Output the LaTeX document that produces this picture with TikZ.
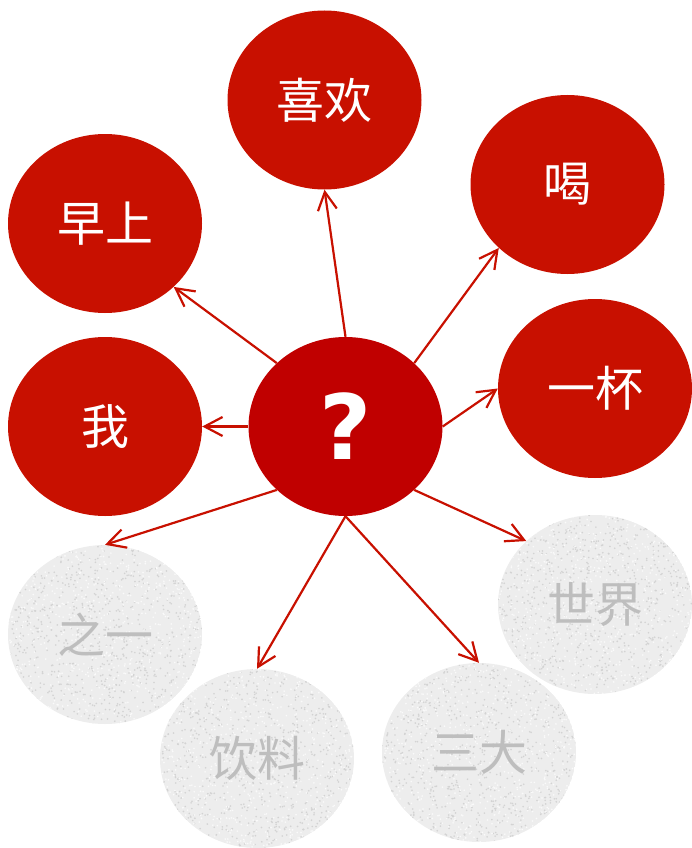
\documentclass[tikz,border=0pt]{standalone}
\usepackage{fontspec}
\newfontfamily\cjk{Noto Sans CJK SC}
\newfontfamily\qfont{DejaVu Sans Bold}
\usetikzlibrary{shapes.geometric,arrows.meta}
\definecolor{ballred}{HTML}{C81000}
\definecolor{centerred}{HTML}{C00000}
\definecolor{arrowred}{HTML}{C81000}
\definecolor{ballgray}{HTML}{EDEDED}
\definecolor{dotdark}{HTML}{D3D3D3}
\definecolor{dotlight}{HTML}{FAFAFA}
\definecolor{graytext}{HTML}{BEBEBE}
\tikzset{
  ballshape/.style={ellipse, minimum width=194pt, minimum height=179pt, inner sep=0pt, draw=none},
  redball/.style={ballshape, fill=ballred, text=white, font=\cjk\fontsize{48}{48}\selectfont},
  centerball/.style={ballshape, fill=centerred, text=white, font=\qfont\fontsize{90}{90}\selectfont},
  grayball/.style={ballshape, text=graytext, font=\cjk\fontsize{48}{48}\selectfont},
  link/.style={draw=arrowred, line width=2.2pt, -{Straight Barb[length=18pt,width=19pt,line width=2.2pt]}}
}
\newcommand{\texturedball}[1]{%
  \begin{scope}
    \clip #1 ellipse [x radius=97pt, y radius=89.5pt];
    \fill[ballgray] #1 ellipse [x radius=97pt, y radius=89.5pt];
    \foreach \i in {1,...,900} {\fill[dotdark] #1 ++(rand*97,rand*90) circle (0.9pt);}
    \foreach \i in {1,...,700} {\fill[dotlight] #1 ++(rand*97,rand*90) circle (0.9pt);}
  \end{scope}}
\begin{document}
\begin{tikzpicture}[x=1pt,y=-1pt]
\useasboundingbox (0,0) rectangle (692,848);
\pgfmathsetseed{42}
% gray textured balls
\texturedball{(105,634.5)}
\texturedball{(257,758.5)}
\texturedball{(479,752.5)}
\texturedball{(595,604.5)}
\node[grayball] (zhiyi) at (105,634.5) {之一};
\node[grayball] (yinliao) at (257,758.5) {饮料};
\node[grayball] (sanda) at (479,752.5) {三大};
\node[grayball] (shijie) at (595,604.5) {世界};
% red balls
\node[redball] (xihuan) at (324.5,100) {喜欢};
\node[redball] (zaoshang) at (105,223.5) {早上};
\node[redball] (he) at (567.5,184.5) {喝};
\node[redball] (wo) at (105,426.5) {我};
\node[redball] (yibei) at (595,388.5) {一杯};
\node[centerball] (q) at (345.5,426.5) {?};
% arrows
\draw[link] (q.north) -- (xihuan.south);
\draw[link] (q.north west) -- (zaoshang.south east);
\draw[link] (q.north east) -- (he.south west);
\draw[link] (q.east) -- (yibei.west);
\draw[link] (q.west) -- (wo.east);
\draw[link] (q.south west) -- (zhiyi.north);
\draw[link] (q.south) -- (yinliao.north);
\draw[link] (q.south) -- (sanda.north);
\draw[link] (q.south east) -- (shijie.north west);
\end{tikzpicture}
\end{document}
